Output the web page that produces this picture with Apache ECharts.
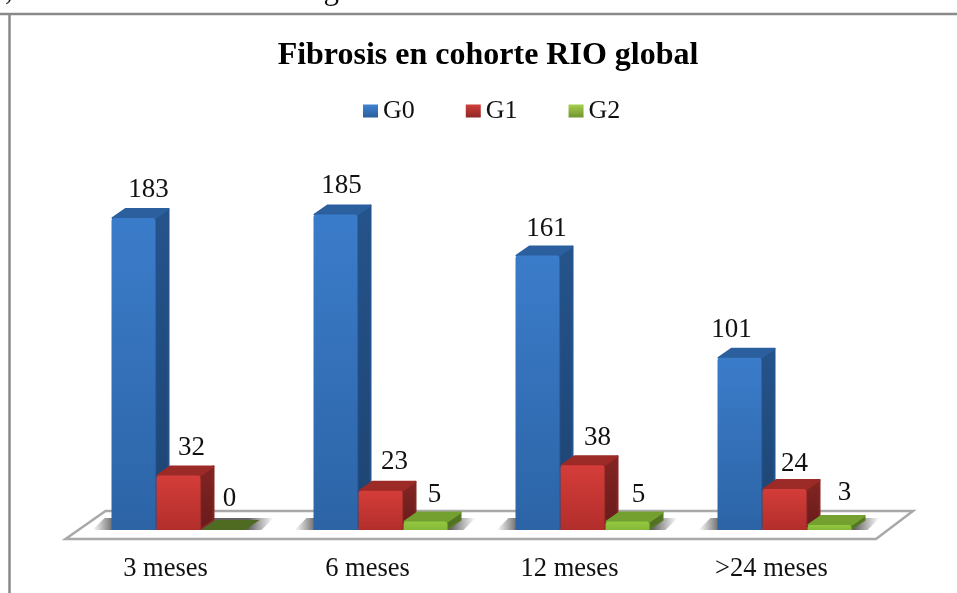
<!DOCTYPE html>
<html><head><meta charset="utf-8">
<style>html,body{margin:0;padding:0;background:#fff}#c{width:957px;height:593px}</style>
<script src="https://cdn.jsdelivr.net/npm/echarts@6/dist/echarts.min.js"></script>
</head><body><div id="c"></div>
<script>
const categories = ['3 meses', '6 meses', '12 meses', '>24 meses'];
const g0 = [183, 185, 161, 101];
const g1 = [32, 23, 38, 24];
const g2 = [0, 5, 5, 3];
const seriesNames = ['G0', 'G1', 'G2'];
const titleText = 'Fibrosis en cohorte RIO global';
const bodyText = ', se desarrolla el máximo grado.';

const FONT = '"Liberation Serif", "Times New Roman", serif';
const DX = 14, DY = 10, BAR = 44, STEP = 45;
const palette = [
  {front: ['#3b7cca', '#2c64a6'], side: ['#25538b', '#1d4472'], top: '#2b5f9e'},
  {front: ['#d43d39', '#b22e2b'], side: ['#842523', '#661b1a'], top: '#9c2a27'},
  {front: ['#93c83f', '#86b838'], side: ['#587a27', '#4d6b22'], top: '#73a02f'}
];
// hand nudges of the value labels, [dx, dy] from the top of the front face
const labelNudge = [
  [[15, -28], [6, -29], [9, -27], [-8, -28]],
  [[13, -28], [14, -29], [15, -27], [10, -25]],
  [[6, -31], [9, -27], [11, -27], [15, -32]]
];
const grad = (a, b) => new echarts.graphic.LinearGradient(0, 0, 0, 1, [{offset: 0, color: a}, {offset: 1, color: b}]);

function barRenderer(si) {
  return function (params, api) {
    const i = api.value(0), v = api.value(1);
    const c = api.coord([i, v]), b = api.coord([i, 0]);
    const x0 = c[0] + (si - 1) * STEP - BAR / 2, x1 = x0 + BAR, yt = c[1], yb = b[1];
    const pal = palette[si];
    const kids = [];
    if (v === 0) {
      kids.push({type: 'polygon', shape: {points: [[x0, yb], [x1, yb], [x1 + DX, yb - DY], [x0 + DX, yb - DY]]},
        style: {fill: '#4f6b22'}});
    } else {
      kids.push({type: 'polygon', shape: {points: [[x1, yt], [x1 + DX - 1, yt - DY + 1], [x1 + DX - 1, yb - DY], [x1, yb - 1]]},
        style: {fill: grad(pal.side[0], pal.side[1]), stroke: pal.side[0], lineWidth: 2, lineJoin: 'round'}});
      kids.push({type: 'polygon', shape: {points: [[x0 + 1, yt], [x0 + DX, yt - DY + 1], [x1 + DX - 1, yt - DY + 1], [x1, yt]]},
        style: {fill: pal.top, stroke: pal.top, lineWidth: 2, lineJoin: 'round'}});
      kids.push({type: 'rect', shape: {x: x0, y: yt, width: BAR, height: yb - yt, r: [3, 3, 0, 0]},
        style: {fill: grad(pal.front[0], pal.front[1])}});
    }
    const n = labelNudge[si][i];
    kids.push({type: 'text', z2: 50, style: {
      text: String(v), x: (x0 + x1) / 2 + n[0], y: yt + n[1],
      align: 'center', verticalAlign: 'middle', fill: '#111', font: '27px ' + FONT}});
    return {type: 'group', children: kids};
  };
}

function floorRenderer(params) {
  const g = params.coordSys;
  const yb = g.y + g.height, R = g.x + g.width;
  return {type: 'polygon', shape: {points: [
    [g.x - 12, yb + 9], [R - 9.5, yb + 9], [R + 27.5, yb - 19], [g.x + 28, yb - 19]
  ]}, style: {fill: '#fff', stroke: '#a9a9a9', lineWidth: 2.5}};
}

function shadowRenderer(params, api) {
  const c = api.coord([api.value(0), 0]);
  const xl = c[0] - 86, xr = c[0] + 95, y = c[1];
  return {type: 'polygon', shape: {points: [[xl, y], [xr - 12, y], [xr, y - 12], [xl + 12, y - 12]]},
    style: {fill: new echarts.graphic.LinearGradient(0, 0, 1, 0, [
      {offset: 0, color: 'rgba(80,80,80,0)'},
      {offset: 0.12, color: 'rgba(70,70,70,0.85)'},
      {offset: 0.86, color: 'rgba(70,70,70,0.85)'},
      {offset: 1, color: 'rgba(80,80,80,0)'}])}};
}

const chart = echarts.init(document.getElementById('c'), null, {renderer: 'canvas'});
chart.setOption({
  animation: false,
  backgroundColor: '#fff',
  title: {text: titleText, left: 488, top: 40, padding: 0, textAlign: 'center',
    textStyle: {fontFamily: FONT, fontWeight: 'bold', fontSize: 32, color: '#000'}},
  legend: {
    left: 363, top: 98, padding: 0, itemWidth: 15, itemHeight: 13, itemGap: 51, icon: 'rect',
    textStyle: {fontFamily: FONT, fontSize: 26, color: '#111'},
    selectedMode: false,
    data: [
      {name: 'G0', itemStyle: {color: grad('#3f83d2', '#2b5f9c')}},
      {name: 'G1', itemStyle: {color: grad('#cf3f3c', '#8f2725')}},
      {name: 'G2', itemStyle: {color: grad('#a6cf4d', '#6f9430')}}
    ]
  },
  grid: {left: 77.5, right: 71.5, top: 189, bottom: 63},
  xAxis: {
    type: 'category', data: categories,
    axisLine: {show: false}, axisTick: {show: false},
    axisLabel: {fontFamily: FONT, fontSize: 26.5, color: '#111', margin: 26, padding: [0, 26, 0, 0], interval: 0}
  },
  yAxis: {type: 'value', min: 0, max: 200, show: false, splitLine: {show: false}},
  graphic: [
    {type: 'line', z: -1, shape: {x1: 0, y1: 14, x2: 957, y2: 14}, style: {stroke: '#8a8a8a', lineWidth: 2.5}},
    {type: 'line', z: -1, shape: {x1: 9.5, y1: 13, x2: 9.5, y2: 593}, style: {stroke: '#8a8a8a', lineWidth: 2.5}},
    {type: 'text', left: 5, top: -25, style: {text: bodyText, font: '31px ' + FONT, fill: '#111'}}
  ],
  series: [
    {type: 'custom', name: 'floor', z: 1, silent: true, renderItem: floorRenderer, data: [[0, 0]], encode: {x: 0, y: 1}, clip: false},
    {type: 'custom', name: 'shadow', z: 2, silent: true, renderItem: shadowRenderer, data: categories.map((c, i) => [i, 0]), encode: {x: 0, y: 1}, clip: false},
    ...[g0, g1, g2].map((vals, si) => ({
      type: 'custom', name: seriesNames[si], z: 3 + si, clip: false,
      itemStyle: {color: palette[si].front[0]},
      renderItem: barRenderer(si), encode: {x: 0, y: 1},
      data: vals.map((v, i) => [i, v])
    }))
  ]
});
</script></body></html>
